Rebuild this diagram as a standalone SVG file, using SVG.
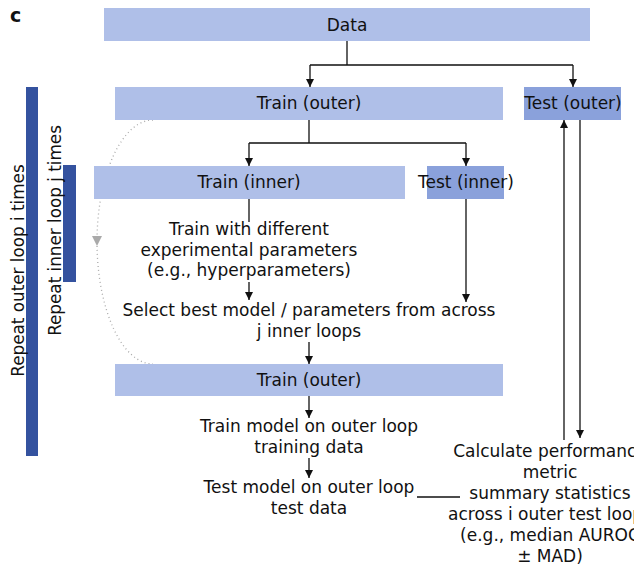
<svg xmlns="http://www.w3.org/2000/svg" width="634" height="567" viewBox="0 0 634 567">
<style>
text{font-family:"DejaVu Sans","Liberation Sans",sans-serif;font-size:17px;fill:#111;}
.c{text-anchor:middle;}
.v{font-size:16.8px;}
.box{fill:#afbfe8;}
.tbox{fill:#8aa1db;}
.bar{fill:#34529f;}
.ln{stroke:#111;stroke-width:1.3;fill:none;}
.arr{marker-end:url(#ah);}
.dot{stroke:#aaa;stroke-width:1.3;fill:none;stroke-dasharray:1 3;}
</style>
<defs>
<marker id="ah" viewBox="0 0 10 10" refX="10" refY="5" markerWidth="8" markerHeight="8" markerUnits="userSpaceOnUse" orient="auto">
<path d="M0,0 L10,5 L0,10 z" fill="#111"/>
</marker>
</defs>
<text x="10" y="22" style="font-weight:bold;font-size:19px">c</text>

<g id="loop-arc">
<path class="dot" d="M153,120 A56,122 0 0 0 97,242"/>
<path class="dot" d="M97,242 A56,122 0 0 0 153,364"/>
<path d="M92,236 L102,236 L97,246 z" fill="#aaa"/>
</g>

<g id="outer-bar">
<rect class="bar" x="26" y="87" width="12" height="369"/>
<text class="c v" transform="translate(24,270.5) rotate(-90)">Repeat outer loop i times</text>
</g>
<g id="inner-bar">
<rect class="bar" x="63" y="165" width="13" height="117"/>
<text class="c v" transform="translate(61,230.5) rotate(-90)">Repeat inner loop j times</text>
</g>

<g id="data">
<rect class="box" x="104" y="8" width="486" height="33"/>
<text class="c" x="347" y="31">Data</text>
</g>
<g id="train-outer">
<rect class="box" x="115" y="87" width="388" height="33"/>
<text class="c" x="309" y="109">Train (outer)</text>
</g>
<g id="test-outer">
<rect class="tbox" x="524" y="87" width="97" height="33"/>
<text class="c" x="573" y="109">Test (outer)</text>
</g>
<g id="train-inner">
<rect class="box" x="94" y="166" width="311" height="33"/>
<text class="c" x="249" y="188">Train (inner)</text>
</g>
<g id="test-inner">
<rect class="tbox" x="427" y="166" width="77" height="33"/>
<text class="c" x="466" y="188">Test (inner)</text>
</g>
<g id="train-params">
<text class="c" x="249" y="235">Train with different</text>
<text class="c" x="249" y="256">experimental parameters</text>
<text class="c" x="249" y="276">(e.g., hyperparameters)</text>
</g>
<g id="select-best">
<text class="c" x="309" y="316">Select best model / parameters from across</text>
<text class="c" x="309" y="337">j inner loops</text>
</g>
<g id="train-outer-2">
<rect class="box" x="115" y="364" width="388" height="32"/>
<text class="c" x="309" y="386">Train (outer)</text>
</g>
<g id="train-model">
<text class="c" x="309" y="432">Train model on outer loop</text>
<text class="c" x="309" y="453">training data</text>
</g>
<g id="test-model">
<text class="c" x="309" y="493">Test model on outer loop</text>
<text class="c" x="309" y="514">test data</text>
</g>
<g id="calc">
<text class="c" x="550" y="457">Calculate performance</text>
<text class="c" x="550" y="478">metric</text>
<text class="c" x="550" y="499">summary statistics</text>
<text class="c" x="550" y="520">across i outer test loops</text>
<text class="c" x="550" y="541">(e.g., median AUROC</text>
<text class="c" x="550" y="562">± MAD)</text>
</g>

<g id="connectors">
<path class="ln" d="M347,41 V65 M310,65 H573"/>
<path class="ln arr" d="M310,65 V87"/>
<path class="ln arr" d="M573,65 V87"/>
<path class="ln" d="M309,120 V143 M249,143 H466"/>
<path class="ln arr" d="M249,143 V166"/>
<path class="ln arr" d="M466,143 V166"/>
<path class="ln" d="M249,199 V222"/>
<path class="ln arr" d="M249,282 V300"/>
<path class="ln arr" d="M466,199 V302"/>
<path class="ln arr" d="M309,342 V364"/>
<path class="ln arr" d="M309,396 V418"/>
<path class="ln arr" d="M309,458 V478"/>
<path class="ln" d="M417,497 H460"/>
<path class="ln arr" d="M564,440 V120"/>
<path class="ln arr" d="M580,120 V438"/>
</g>
</svg>
